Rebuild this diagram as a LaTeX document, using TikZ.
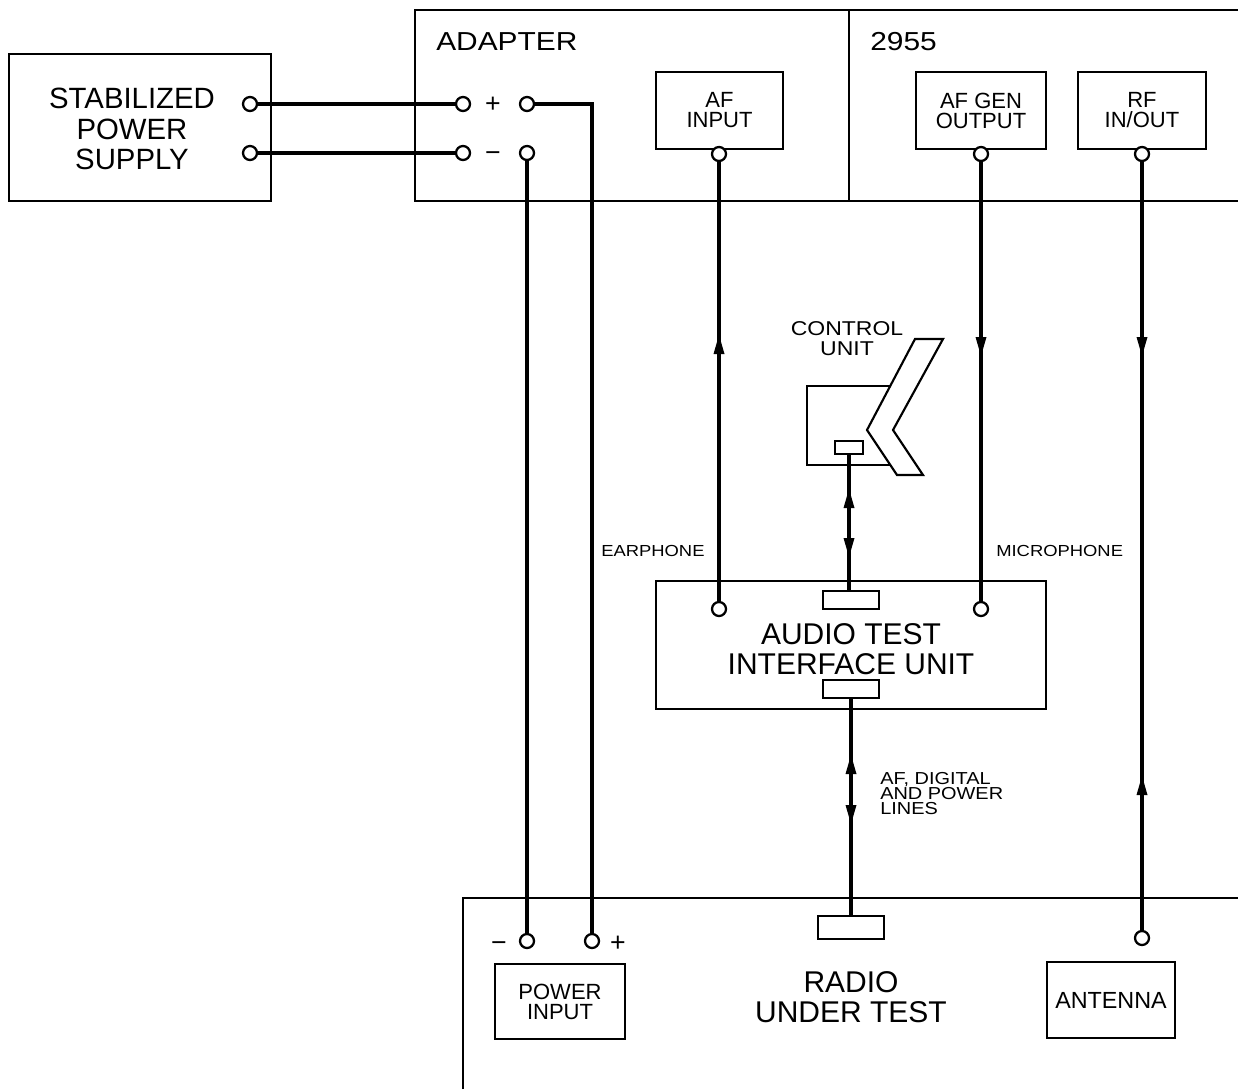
\documentclass[tikz,border=0pt]{standalone}
\usepackage{fontspec}
\setmainfont{Liberation Sans}
\newfontfamily\widefam[FakeStretch=1.15]{Liberation Sans}
\tikzset{
 x=0.75pt,y=-0.75pt,
 frame/.style={draw,line width=1.5pt,inner sep=0pt,align=center},
 term/.style={circle,draw,line width=1.7pt,fill=white,minimum size=10.5pt,inner sep=0pt},
 wire/.style={line width=3.4pt},
 frameline/.style={line width=1.5pt},
 plug/.style={draw,line width=1.4pt,fill=white,inner sep=0pt},
 lab/.style={inner sep=0pt,align=center},
 big/.style={font=\fontsize{22}{23}\selectfont},
 unitlab/.style={font=\fontsize{22.5}{23}\selectfont},
 med/.style={font=\fontsize{16.5}{15}\selectfont},
 head/.style={font=\widefam\fontsize{19.5}{20}\selectfont},
 sml/.style={font=\widefam\fontsize{12}{11}\selectfont},
 sign/.style={font=\fontsize{20}{20}\selectfont},
}
\newcommand{\uptip}[2]{\fill (#1,#2) -- ++(-5.5,19) -- ++(11,0) -- cycle;}
\newcommand{\dntip}[2]{\fill (#1,#2) -- ++(-5.5,-19) -- ++(11,0) -- cycle;}
\begin{document}
\begin{tikzpicture}
\useasboundingbox (0,0) rectangle (1238,1089);
% frames
\node[frame,minimum width=196.5pt,minimum height=110.25pt] (psu) at (140,127.5) {};
\node[lab,big] (psut) at (132,129) {STABILIZED\\POWER\\SUPPLY};
\node[frame,minimum width=325.5pt,minimum height=143.25pt] (adp) at (632,105.5) {};
\draw[frameline] (849,10) -- (1238,10) (849,201) -- (1238,201);
\node[lab,head,anchor=west] (adpt) at (436,42) {ADAPTER};
\node[lab,head,anchor=west] (tft) at (870,42) {2955};
\node[frame,lab,med,minimum width=95.25pt,minimum height=57.75pt] (afin) at (719.5,110.5) {AF\\INPUT};
\node[frame,lab,med,minimum width=97.5pt,minimum height=57.75pt] (afgen) at (981,110.5) {AF GEN\\OUTPUT};
\node[frame,lab,med,minimum width=96pt,minimum height=57.75pt] (rf) at (1142,110.5) {RF\\IN/OUT};
\node[frame,minimum width=292.5pt,minimum height=96pt] (atiu) at (851,645) {};
\node[lab,unitlab] (atiut) at (851,649) {AUDIO TEST\\INTERFACE UNIT};
\draw[frameline] (463,1089) -- (463,898) -- (1238,898);
\node[frame,lab,med,minimum width=97.5pt,minimum height=56.25pt] (pwr) at (560,1001.5) {POWER\\INPUT};
\node[frame,lab,med,minimum width=96pt,minimum height=57pt,font=\fontsize{17.5}{15}\selectfont] (ant) at (1111,1000) {ANTENNA};
\node[lab,unitlab] (rut) at (851,997) {RADIO\\UNDER TEST};
% control unit
\draw[frameline] (890,386) -- (807,386) -- (807,465) -- (890,465);
\draw[line width=1.6pt] (915,339) -- (943,339) -- (893,430) -- (923,475) -- (897,475) -- (867,430) -- cycle;
\node[lab,font=\widefam\fontsize{15}{15}\selectfont] (cut) at (847,339) {CONTROL\\UNIT};
% plugs
\node[plug,minimum width=21pt,minimum height=9.75pt] (pc) at (849,447.5) {};
\node[plug,minimum width=42pt,minimum height=13.5pt] (pa) at (851,600) {};
\node[plug,minimum width=42pt,minimum height=13.5pt] (pb) at (851,689) {};
\node[plug,minimum width=50pt,minimum height=17pt] (pr) at (851,927.5) {};
% terminals
\node[term] (s1) at (250,104) {};
\node[term] (s2) at (250,153) {};
\node[term] (a1) at (463,104) {};
\node[term] (a2) at (463,153) {};
\node[term] (a3) at (527,104) {};
\node[term] (a4) at (527,153) {};
\node[term] (i1) at (719,154) {};
\node[term] (i2) at (981,154) {};
\node[term] (i3) at (1142,154) {};
\node[term] (u1) at (719,609) {};
\node[term] (u2) at (981,609) {};
\node[term] (r1) at (527,941) {};
\node[term] (r2) at (592,941) {};
\node[term] (r3) at (1142,938) {};
\node[lab,sign] (pl1) at (493,105) {+};
\node[lab,sign] (mi1) at (493,157) {−};
\node[lab,sign] (mi2) at (499,947) {−};
\node[lab,sign] (pl2) at (618,944) {+};
\node[lab,sml,anchor=west] (ear) at (601,551) {EARPHONE};
\node[lab,sml,anchor=west] (mic) at (996,551) {MICROPHONE};
\node[lab,anchor=north west,align=left,font=\widefam\fontsize{13}{11.25}\selectfont] (afd) at (880,772) {AF, DIGITAL\\AND POWER\\LINES};
% wires
\draw[wire] (s1) -- (a1);
\draw[wire] (s2) -- (a2);
\draw[wire] (a3) -- (592,104) -- (r2);
\draw[wire] (a4) -- (r1);
\draw[wire] (u1) -- (i1);
\draw[wire] (i2) -- (u2);
\draw[wire] (i3) -- (r3);
\draw[wire] (pc.south) -- (pc.south |- pa.north);
\draw[wire] (pb.south) -- (pr.north);
% arrowheads
\uptip{719}{335}
\dntip{981}{356}
\dntip{1142}{356}
\uptip{1142}{776}
\uptip{849}{489}
\dntip{849}{557}
\uptip{851}{755}
\dntip{851}{824}
\end{tikzpicture}
\end{document}
